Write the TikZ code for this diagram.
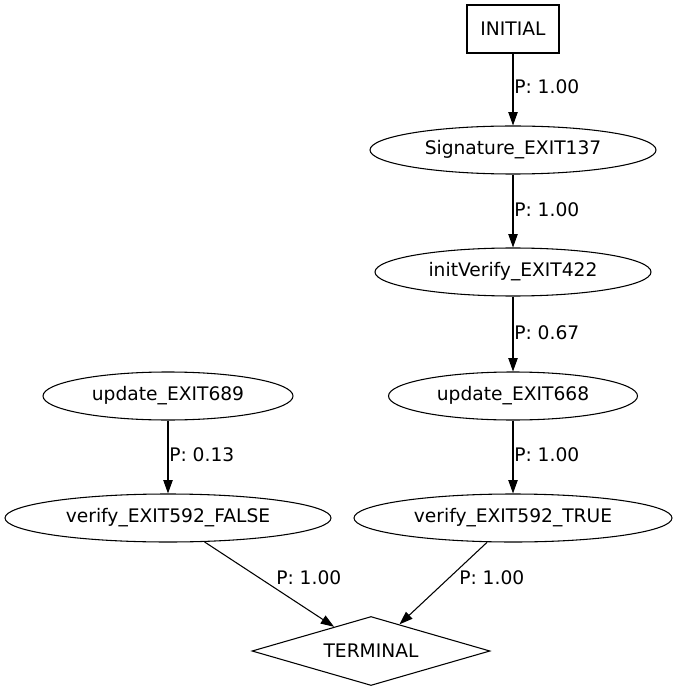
\documentclass[tikz,border=0pt]{standalone}
\usepackage{fontspec}
\setmainfont{DejaVu Sans}
\usepackage{tikz}
\usetikzlibrary{shapes.geometric, arrows.meta, positioning, calc}

\begin{document}
\begin{tikzpicture}[
            x=0.75pt, y=-0.75pt,
            state/.style={ellipse, draw=black, line width=0.8pt, inner sep=0pt, minimum height=36pt, font=\fontsize{14}{16}\selectfont},
            start state/.style={rectangle, draw=black, line width=0.8pt, inner sep=0pt, minimum width=69pt, minimum height=36pt, font=\fontsize{14}{16}\selectfont},
            end state/.style={diamond, draw=black, line width=0.8pt, inner sep=0pt, aspect=3.45, minimum width=178.5pt, minimum height=51.75pt, font=\fontsize{14}{16}\selectfont},
            prob/.style={font=\fontsize{14}{16}\selectfont, inner sep=0pt, anchor=west},
            edge/.style={draw=black, line width=0.8pt, -{Triangle[length=10pt, width=7pt]}}
        ]
        \useasboundingbox (0,0) rectangle (677,691);

        % States
        \node[start state] (initial) at (513,29) {INITIAL};
        \node[state, minimum width=214.5pt] (sig137) at (513,150) {Signature\_EXIT137};
        \node[state, minimum width=207pt] (initv422) at (513,272) {initVerify\_EXIT422};
        \node[state, minimum width=186.75pt] (upd668) at (513,396) {update\_EXIT668};
        \node[state, minimum width=238.5pt] (vertrue) at (513,518) {verify\_EXIT592\_TRUE};
        \node[state, minimum width=187.5pt] (upd689) at (168,396) {update\_EXIT689};
        \node[state, minimum width=244.5pt] (verfalse) at (168,518) {verify\_EXIT592\_FALSE};
        \node[end state] (terminal) at (371,651) {TERMINAL};

        % Transitions
        \draw[edge] (initial) -- (sig137);
        \draw[edge] (sig137) -- (initv422);
        \draw[edge] (initv422) -- (upd668);
        \draw[edge] (upd668) -- (vertrue);
        \draw[edge] (upd689) -- (verfalse);
        \draw[edge] (verfalse) -- (terminal);
        \draw[edge] (vertrue) -- (terminal);

        % Probabilities
        \node[prob] (p1) at (514,87) {P: 1.00};
        \node[prob] (p2) at (514,210) {P: 1.00};
        \node[prob] (p3) at (514,333) {P: 0.67};
        \node[prob] (p4) at (514,455) {P: 1.00};
        \node[prob] (p5) at (169,455) {P: 0.13};
        \node[prob] (p6) at (276,578) {P: 1.00};
        \node[prob] (p7) at (459,578) {P: 1.00};
        \end{tikzpicture}
\end{document}
